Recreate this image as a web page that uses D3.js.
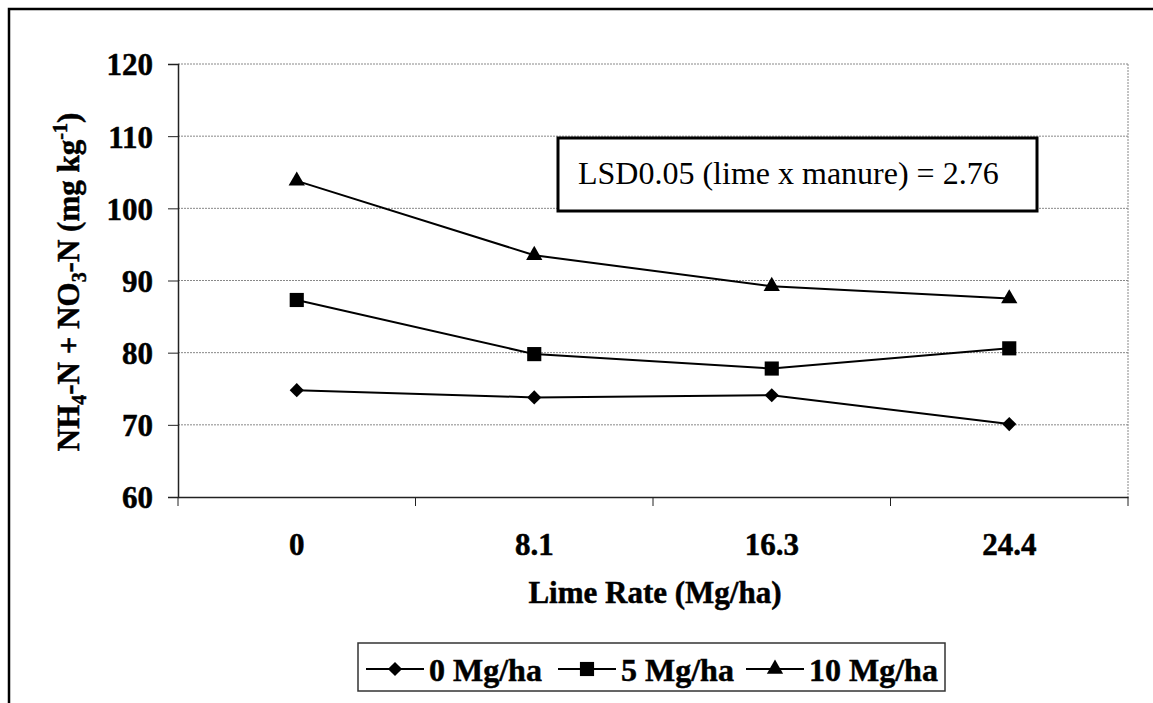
<!DOCTYPE html>
<html>
<head>
<meta charset="utf-8">
<script src="https://cdn.jsdelivr.net/npm/d3@7"></script>
<style>
  html, body { margin: 0; padding: 0; background: #fff; }
  svg { display: block; }
  text { font-family: "Liberation Serif", "Times New Roman", serif; fill: #000; }
  .bold { font-weight: bold; stroke: #000; stroke-width: 0.5px; }
</style>
</head>
<body>
<svg id="chart" width="1153" height="703"></svg>
<script>
// Chart data.
const limeRates   = [ '0', '8.1', '16.3', '24.4' ];
const seriesNames = [ '0 Mg/ha', '5 Mg/ha', '10 Mg/ha' ];
const manure0     = [ 74.8, 73.8, 74.1, 70.1 ];
const manure5     = [ 87.3, 79.8, 77.8, 80.6 ];
const manure10    = [ 103.8, 93.5, 89.2, 87.5 ];
const yTicks      = [ 60, 70, 80, 90, 100, 110, 120 ];
const lsdNote     = 'LSD0.05 (lime x manure) = 2.76';

const series = [
  { name: seriesNames[0], values: manure0,  symbol: 'diamond'  },
  { name: seriesNames[1], values: manure5,  symbol: 'square'   },
  { name: seriesNames[2], values: manure10, symbol: 'triangle' }
];

// Layout.
const plot = { left: 178, top: 64, right: 1128, bottom: 497 };

const svg = d3.select( '#chart' );

// Outer frame (right and bottom edges fall outside the picture).
svg.append( 'path' )
  .attr( 'd', 'M9,703 V9 H1153' )
  .attr( 'fill', 'none' )
  .attr( 'stroke', '#000' )
  .attr( 'stroke-width', 2.5 );

// Scales.
const x = d3.scaleBand( )
  .domain( limeRates )
  .range( [ plot.left, plot.right ] );

const y = d3.scaleLinear( )
  .domain( [ 60, 120 ] )
  .range( [ plot.bottom, plot.top ] );

// Gridlines (dotted), plus the dotted top and right border.
svg.append( 'g' )
  .selectAll( 'line' )
  .data( yTicks.slice( 1 ) )
  .enter( )
  .append( 'line' )
    .attr( 'x1', plot.left )
    .attr( 'x2', plot.right )
    .attr( 'y1', d => y( d ) )
    .attr( 'y2', d => y( d ) )
    .attr( 'stroke', '#888' )
    .attr( 'stroke-width', 1 )
    .attr( 'stroke-dasharray', '2,1' );

svg.append( 'line' )
  .attr( 'x1', plot.right ).attr( 'x2', plot.right )
  .attr( 'y1', plot.top ).attr( 'y2', plot.bottom )
  .attr( 'stroke', '#888' )
  .attr( 'stroke-dasharray', '2,1' );

// Y axis.
const yAxis = svg.append( 'g' )
  .attr( 'transform', `translate(${plot.left},0)` )
  .call( d3.axisLeft( y ).tickValues( yTicks ).tickSize( 10 ).tickPadding( 15 ) );

yAxis.select( '.domain' ).attr( 'stroke', '#222' ).attr( 'stroke-width', 1.5 );
yAxis.selectAll( '.tick line' ).attr( 'stroke', '#222' );
yAxis.selectAll( 'text' )
  .attr( 'class', 'bold' )
  .style( 'font-size', '31px' )
  .attr( 'dy', '0.35em' );

// X axis: ticks on band edges, labels at band centres.
const xAxis = svg.append( 'g' )
  .attr( 'transform', `translate(0,${plot.bottom})` )
  .call( d3.axisBottom( x ).tickSize( 0 ).tickPadding( 36 ) );

xAxis.select( '.domain' ).attr( 'stroke', '#222' ).attr( 'stroke-width', 1.5 );
xAxis.selectAll( 'text' )
  .attr( 'class', 'bold' )
  .style( 'font-size', '31px' );

const edges = limeRates.map( d => x( d ) ).concat( [ plot.right ] );
xAxis.selectAll( '.edge' )
  .data( edges )
  .enter( )
  .append( 'line' )
    .attr( 'class', 'edge' )
    .attr( 'x1', d => d ).attr( 'x2', d => d )
    .attr( 'y1', 0 ).attr( 'y2', 9 )
    .attr( 'stroke', '#222' );

// Axis titles.
svg.append( 'text' )
  .attr( 'class', 'bold' )
  .attr( 'x', ( plot.left + plot.right ) / 2 + 2 )
  .attr( 'y', 603 )
  .attr( 'text-anchor', 'middle' )
  .style( 'font-size', '31px' )
  .text( 'Lime Rate (Mg/ha)' );

const yTitle = svg.append( 'text' )
  .attr( 'class', 'bold' )
  .attr( 'transform', 'translate(79,282) rotate(-90)' )
  .attr( 'text-anchor', 'middle' )
  .style( 'font-size', '31px' );
yTitle.append( 'tspan' ).text( 'NH' );
yTitle.append( 'tspan' ).attr( 'dy', 7 ).style( 'font-size', '20px' ).text( '4' );
yTitle.append( 'tspan' ).attr( 'dy', -7 ).text( '-N + NO' );
yTitle.append( 'tspan' ).attr( 'dy', 7 ).style( 'font-size', '20px' ).text( '3' );
yTitle.append( 'tspan' ).attr( 'dy', -7 ).text( '-N (mg kg' );
yTitle.append( 'tspan' ).attr( 'dy', -12 ).style( 'font-size', '20px' ).text( '-1' );
yTitle.append( 'tspan' ).attr( 'dy', 12 ).text( ')' );

// Markers.
const symbolPath = {
  diamond:  d3.symbol( d3.symbolSquare, 100 )( ),
  square:   d3.symbol( d3.symbolSquare, 200 )( ),
  triangle: d3.symbol( d3.symbolTriangle, 115 )( )
};
const symbolRotate = { diamond: 45, square: 0, triangle: 0 };

// Lines and markers.
const line = d3.line( )
  .x( ( d, i ) => x( limeRates[ i ] ) + x.bandwidth( ) / 2 )
  .y( d => y( d ) );

const lines = svg.append( 'g' )
  .selectAll( 'g' )
  .data( series )
  .enter( )
  .append( 'g' );

lines.append( 'path' )
  .attr( 'd', d => line( d.values ) )
  .attr( 'fill', 'none' )
  .attr( 'stroke', '#000' )
  .attr( 'stroke-width', 2 );

lines.selectAll( '.marker' )
  .data( d => d.values.map( ( v, i ) => ( { v, i, symbol: d.symbol } ) ) )
  .enter( )
  .append( 'path' )
    .attr( 'class', 'marker' )
    .attr( 'd', d => symbolPath[ d.symbol ] )
    .attr( 'transform', d => `translate(${x( limeRates[ d.i ] ) + x.bandwidth( ) / 2},${y( d.v )}) rotate(${symbolRotate[ d.symbol ]})` )
    .attr( 'fill', '#000' );

// LSD annotation box.
svg.append( 'rect' )
  .attr( 'x', 558 ).attr( 'y', 138 )
  .attr( 'width', 479 ).attr( 'height', 73 )
  .attr( 'fill', '#fff' )
  .attr( 'stroke', '#000' )
  .attr( 'stroke-width', 3 );

svg.append( 'text' )
  .attr( 'x', 578 )
  .attr( 'y', 184 )
  .style( 'font-size', '32px' )
  .text( lsdNote );

// Legend.
const legend = svg.append( 'g' );
legend.append( 'rect' )
  .attr( 'x', 358 ).attr( 'y', 643 )
  .attr( 'width', 587 ).attr( 'height', 48 )
  .attr( 'fill', '#fff' )
  .attr( 'stroke', '#333' )
  .attr( 'stroke-width', 1.5 );

const legendX = [ 366, 558, 746 ];
const legendItems = legend.selectAll( '.item' )
  .data( series )
  .enter( )
  .append( 'g' )
    .attr( 'class', 'item' )
    .attr( 'transform', ( d, i ) => `translate(${legendX[ i ]},669)` );

legendItems.append( 'line' )
  .attr( 'x1', 0 ).attr( 'x2', 58 )
  .attr( 'stroke', '#000' )
  .attr( 'stroke-width', 2 );

legendItems.append( 'path' )
  .attr( 'd', d => symbolPath[ d.symbol ] )
  .attr( 'transform', d => `translate(29,0) rotate(${symbolRotate[ d.symbol ]})` )
  .attr( 'fill', '#000' );

legendItems.append( 'text' )
  .attr( 'class', 'bold' )
  .attr( 'x', 63 )
  .attr( 'y', 12 )
  .style( 'font-size', '32px' )
  .text( d => d.name );
</script>
</body>
</html>
